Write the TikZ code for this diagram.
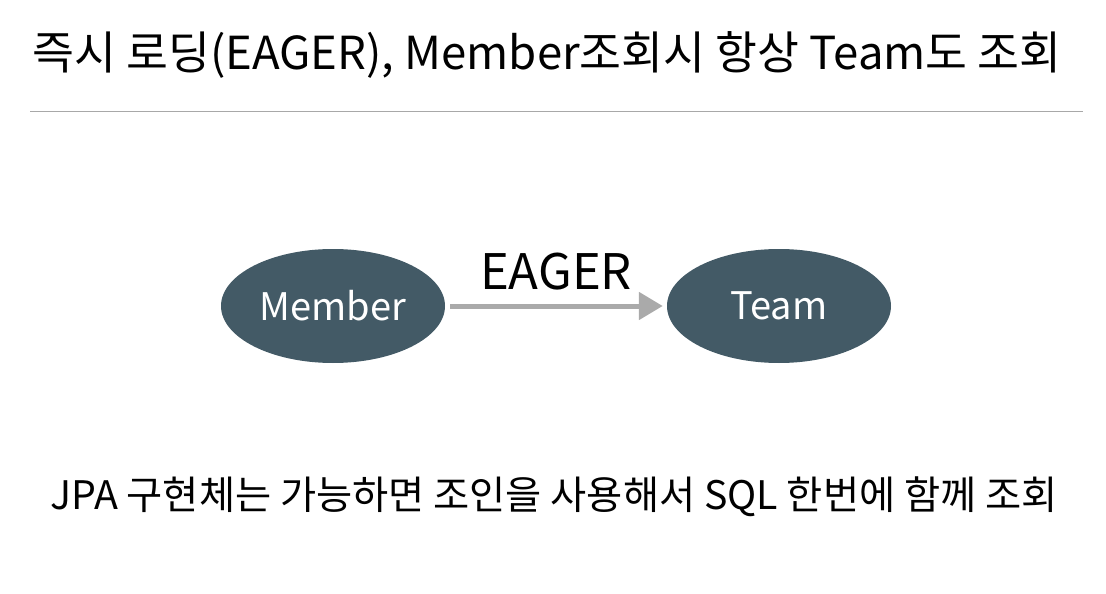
\documentclass[tikz,border=0pt]{standalone}
\usepackage{fontspec}
\setmainfont{Noto Sans CJK KR}
\usetikzlibrary{shapes.geometric,arrows.meta}
\definecolor{nodefill}{HTML}{435A66}
\definecolor{arrowgray}{HTML}{AAAAAA}
\definecolor{rulegray}{HTML}{A8A8A8}
\begin{document}
\begin{tikzpicture}[x=1pt,y=-1pt,
  ent/.style={ellipse,fill=nodefill,draw=none,minimum width=224pt,minimum height=114pt,inner sep=0pt,text=white,font=\fontsize{38}{40}\selectfont},
  conn/.style={draw=arrowgray,line width=5pt,-{Triangle[length=24pt,width=27pt]}},
  lbl/.style={inner sep=0pt,text=black}]
\useasboundingbox (0,0) rectangle (1106,594);
\node[lbl,font=\fontsize{45.5}{48}\selectfont] (title) at (547,55) {즉시 로딩(EAGER), Member조회시 항상 Team도 조회};
\coordinate (rl) at (30,111);
\coordinate (rr) at (1083,111);
\draw[rulegray,line width=1pt] (rl) -- (rr);
\node[ent] (member) at (333,306) {Member};
\node[ent] (team) at (779,306) {Team};
\draw[conn] (member.east) ++(5pt,0) coordinate (a0) -- ([xshift=-4pt]team.west);
\node[lbl,font=\fontsize{49}{52}\selectfont] (eager) at (556,272) {EAGER};
\node[lbl,font=\fontsize{39.3}{42}\selectfont] (bottom) at (554,497) {JPA 구현체는 가능하면 조인을 사용해서 SQL 한번에 함께 조회};
\end{tikzpicture}
\end{document}
